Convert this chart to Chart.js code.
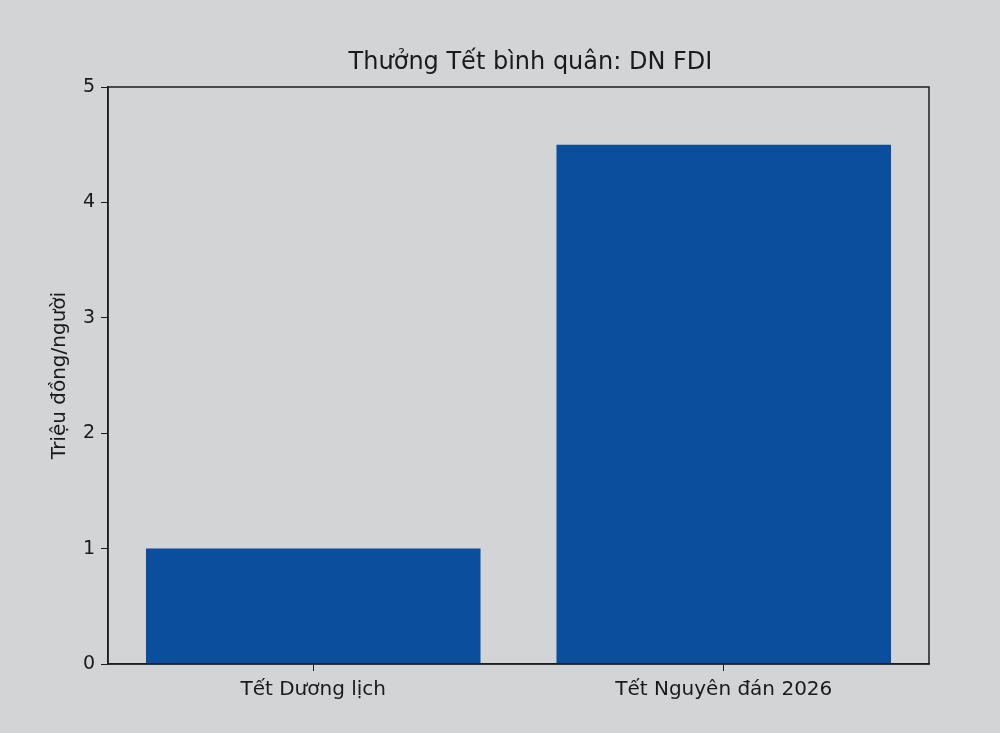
<!DOCTYPE html>
<html>
<head>
<meta charset="utf-8">
<script src="https://cdn.jsdelivr.net/npm/chart.js@4"></script>
<style>
  html, body { margin: 0; padding: 0; background: #d3d4d6; }
  #wrap { width: 1000px; height: 733px; }
</style>
</head>
<body>
<div id="wrap"><canvas id="c" width="1000" height="733"></canvas></div>
<script>
const categories = ["Tết Dương lịch", "Tết Nguyên đán 2026"];
const values = [1.0, 4.5];
const yTicks = [0, 1, 2, 3, 4, 5];
const titleText = "Thưởng Tết bình quân: DN FDI";
const yLabel = "Triệu đồng/người";

const bgPlugin = {
  id: 'bg',
  beforeDraw(chart) {
    const ctx = chart.ctx;
    ctx.save();
    ctx.fillStyle = '#d3d4d6';
    ctx.fillRect(0, 0, chart.width, chart.height);
    ctx.restore();
  },
  afterDatasetsDraw(chart) {
    const { ctx, chartArea: a } = chart;
    ctx.save();
    ctx.strokeStyle = '#1e1e1e';
    ctx.lineWidth = 1.5;
    ctx.strokeRect(a.left, a.top, a.right - a.left, a.bottom - a.top);
    ctx.restore();
  },
  afterDraw(chart) {
    const { ctx, chartArea: a } = chart;
    ctx.save();
    ctx.fillStyle = '#1a1a1a';
    ctx.font = '24px "DejaVu Sans"';
    ctx.textAlign = 'center';
    ctx.textBaseline = 'middle';
    ctx.fillText(titleText, (a.left + a.right) / 2 + 12, 63);
    ctx.restore();
  }
};

new Chart(document.getElementById('c'), {
  type: 'bar',
  data: {
    labels: categories,
    datasets: [{
      data: values,
      backgroundColor: '#0b4e9e',
      borderWidth: 0,
      barPercentage: 0.815,
      categoryPercentage: 1.0
    }]
  },
  options: {
    responsive: false,
    animation: false,
    layout: { padding: { left: 0, right: 71, top: 87, bottom: 0 } },
    plugins: {
      legend: { display: false },
      tooltip: { enabled: false },
      title: { display: false }
    },
    scales: {
      x: {
        grid: { offset: false, drawOnChartArea: false, drawTicks: true, tickLength: 7, color: '#1e1e1e' },
        border: { display: true, color: '#1e1e1e', width: 1.5 },
        ticks: { color: '#1a1a1a', font: { family: 'DejaVu Sans', size: 20 }, padding: 7 },
        afterFit(scale) { scale.height = 69; }
      },
      y: {
        min: 0,
        max: 5,
        afterBuildTicks(scale) { scale.ticks = yTicks.map(v => ({ value: v })); },
        grid: { drawOnChartArea: false, drawTicks: true, tickLength: 7, color: '#1e1e1e' },
        border: { display: true, color: '#1e1e1e', width: 1.5 },
        ticks: { color: '#1a1a1a', font: { family: 'DejaVu Sans', size: 19 }, padding: 6 },
        title: {
          display: true,
          text: yLabel,
          color: '#1a1a1a',
          font: { family: 'DejaVu Sans', size: 20 },
          padding: { top: 48, bottom: 0 }
        },
        afterFit(scale) { scale.width = 108; }
      }
    }
  },
  plugins: [bgPlugin]
});
</script>
</body>
</html>
